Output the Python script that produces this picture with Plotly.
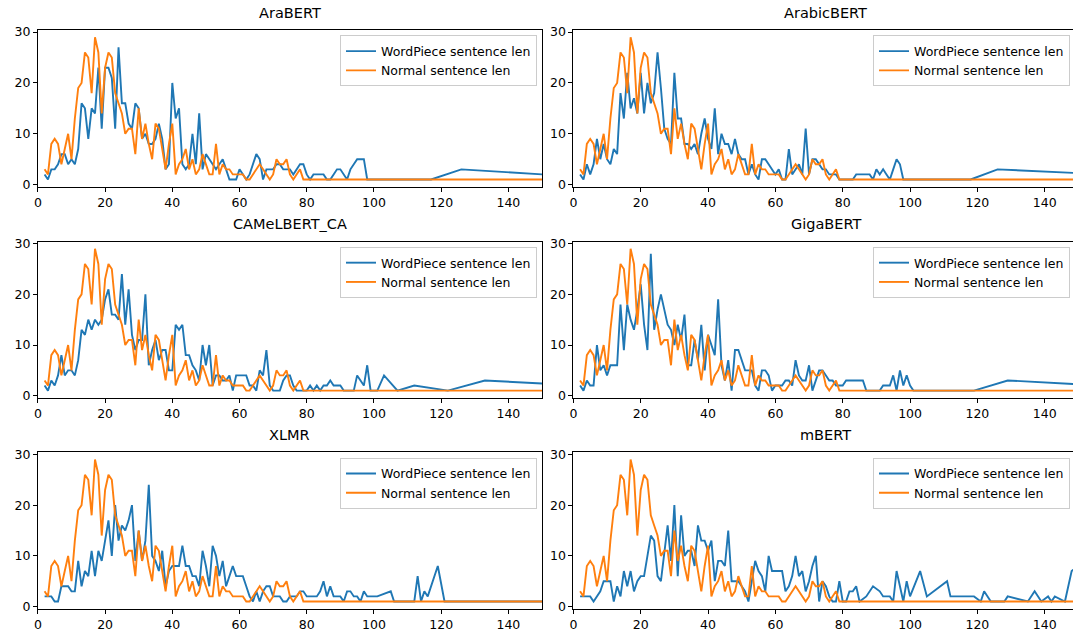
import plotly.graph_objects as go

# Sentence-length distributions: count of sentences per length.
# "Normal" lengths are whitespace-token lengths; the same series is shown in every panel.
normal_head = [3, 2, 8, 9, 8, 4, 7, 10, 5, 13, 19, 20, 26, 25, 18, 29, 26, 14, 23, 26,
               25, 18, 16, 14, 10, 11, 11, 6, 15, 9, 12, 8, 5, 12, 11, 7, 3, 8, 12, 2,
               4, 5, 7, 3, 5, 2, 3, 6, 4, 2, 2, 8, 2, 4, 3, 3, 2, 2, 2, 2,
               1, 1, 2, 3, 4, 3, 2, 1, 2, 5, 4, 4, 5, 2, 1, 2, 3, 1]
normal_tail_x = [85, 95, 110, 130, 160]
normal_tail_y = [1, 1, 1, 1, 1]

# WordPiece lengths per tokenizer (head values start at length 2)
arabert_head = [2, 1, 3, 3, 4, 6, 6, 4, 5, 4, 7, 16, 15, 9, 15, 14, 23, 11, 23, 23,
                21, 11, 27, 16, 16, 12, 11, 16, 15, 9, 10, 8, 8, 9, 12, 9, 3, 4, 20, 13,
                15, 4, 3, 4, 10, 4, 14, 3, 6, 5, 4, 3, 4, 5, 3, 1, 1, 1, 3, 2,
                1, 2, 4, 6, 5, 1, 3, 3, 3, 4, 4, 3, 3, 3, 2, 3, 4, 4, 2, 1,
                2, 2, 2, 2, 1, 1, 2, 3, 3, 2, 1, 3, 4, 5, 5, 5, 1]
arabert_tail_x = [105, 110, 117, 126, 174]
arabert_tail_y = [1, 1, 1, 3, 1]

arabicbert_head = [2, 1, 4, 2, 4, 9, 5, 8, 5, 4, 7, 6, 18, 13, 22, 15, 17, 14, 22, 14,
                   20, 16, 18, 26, 19, 11, 9, 8, 22, 13, 13, 8, 8, 7, 8, 6, 10, 13, 9, 7,
                   15, 6, 10, 8, 8, 6, 9, 6, 5, 5, 2, 4, 2, 1, 5, 5, 4, 3, 2, 3,
                   1, 1, 7, 2, 3, 4, 2, 11, 2, 5, 5, 4, 3, 3, 2, 2, 2, 1, 1, 1,
                   1, 1, 2, 2, 2, 2, 2, 1, 3, 2, 3, 2, 1, 3, 5, 4, 1]
arabicbert_tail_x = [105, 110, 118, 126, 158]
arabicbert_tail_y = [1, 1, 1, 3, 2]

camelbert_head = [2, 1, 3, 2, 4, 8, 4, 5, 5, 4, 7, 13, 12, 15, 13, 15, 14, 15, 19, 21,
                  16, 16, 15, 24, 14, 21, 12, 9, 11, 11, 20, 6, 9, 11, 7, 9, 9, 5, 5, 14,
                  13, 14, 8, 8, 6, 5, 3, 10, 6, 10, 2, 4, 4, 3, 3, 4, 1, 4, 4, 4,
                  4, 2, 2, 1, 5, 4, 9, 2, 1, 1, 1, 3, 4, 4, 2, 1, 1, 1, 1, 2,
                  1, 2, 1, 2, 2, 3, 2, 2, 2, 1, 1, 1, 1, 4, 3, 2, 6, 1]
camelbert_tail_x = [101, 103, 107, 112, 122, 133, 161]
camelbert_tail_y = [1, 4, 1, 2, 1, 3, 2]

gigabert_head = [2, 1, 3, 2, 2, 10, 5, 6, 4, 6, 6, 6, 18, 9, 18, 15, 13, 17, 22, 14,
                 9, 28, 13, 17, 20, 17, 14, 13, 10, 14, 11, 16, 6, 6, 11, 7, 14, 5, 12, 10,
                 8, 19, 6, 3, 7, 1, 9, 9, 7, 5, 5, 5, 2, 1, 5, 5, 4, 1, 2, 2,
                 2, 3, 3, 2, 7, 4, 3, 3, 6, 1, 3, 5, 5, 4, 3, 3, 2, 2, 2, 3,
                 3, 3, 3, 3, 3, 1, 1, 1, 1, 1, 2, 2, 2, 4, 1, 5, 2, 4, 2, 1]
gigabert_tail_x = [110, 119, 129, 157]
gigabert_tail_y = [1, 1, 3, 2]

xlmr_head = [2, 2, 2, 1, 1, 4, 4, 4, 3, 3, 9, 4, 7, 6, 11, 6, 11, 9, 13, 17,
             10, 20, 13, 16, 15, 17, 20, 9, 15, 9, 13, 24, 10, 9, 7, 11, 4, 7, 8, 8,
             8, 12, 8, 8, 6, 6, 4, 11, 8, 4, 12, 10, 6, 9, 4, 6, 8, 6, 6, 6,
             4, 2, 1, 3, 1, 3, 4, 4, 2, 2, 2, 1, 1, 2, 2, 2, 3, 3, 2, 2,
             2, 2, 3, 5, 2, 4, 2, 2, 2, 1, 3, 3, 2, 2, 1, 3, 2, 2, 2, 2]
xlmr_tail_x = [105, 106, 112, 113, 114, 115, 116, 119, 121, 160]
xlmr_tail_y = [3, 1, 1, 6, 1, 3, 2, 8, 1, 1]

mbert_head = [2, 2, 2, 2, 1, 2, 3, 5, 5, 5, 1, 4, 2, 7, 4, 7, 3, 5, 6, 6,
              10, 14, 13, 6, 5, 11, 16, 9, 20, 6, 18, 10, 11, 11, 8, 16, 13, 13, 11, 13,
              5, 9, 9, 8, 15, 5, 5, 5, 4, 3, 1, 5, 9, 7, 6, 3, 10, 7, 7, 7,
              7, 3, 4, 6, 10, 6, 7, 3, 5, 8, 10, 1, 5, 4, 2, 1, 1, 5, 1, 1,
              3, 3, 4, 1]
mbert_tail_x = [87, 89, 91, 92, 94, 95, 96, 98, 99, 100, 103, 105, 107, 111, 112, 119,
                121, 122, 124, 128, 129, 135, 137, 139, 141, 142, 143, 146, 147, 148, 150]
mbert_tail_y = [2, 4, 3, 2, 2, 1, 7, 1, 5, 2, 7, 2, 3, 5, 2, 2,
                1, 3, 1, 1, 2, 1, 3, 1, 2, 1, 2, 1, 4, 7, 8]

panel_titles = ["AraBERT", "ArabicBERT", "CAMeLBERT_CA", "GigaBERT", "XLMR", "mBERT"]
wordpiece = [
    (arabert_head, arabert_tail_x, arabert_tail_y),
    (arabicbert_head, arabicbert_tail_x, arabicbert_tail_y),
    (camelbert_head, camelbert_tail_x, camelbert_tail_y),
    (gigabert_head, gigabert_tail_x, gigabert_tail_y),
    (xlmr_head, xlmr_tail_x, xlmr_tail_y),
    (mbert_head, mbert_tail_x, mbert_tail_y),
]
x_ticks = [0, 20, 40, 60, 80, 100, 120, 140]
y_ticks = [0, 10, 20, 30]

BLUE = "#1f77b4"
ORANGE = "#ff7f0e"
FONT = "DejaVu Sans"
W, H = 1073, 635


def series(head, tail_x, tail_y):
    xs = list(range(2, 2 + len(head))) + list(tail_x)
    ys = list(head) + list(tail_y)
    return xs, ys


normal_x, normal_y = series(normal_head, normal_tail_x, normal_tail_y)

# panel geometry in pixels: (left, right, visible x max) for columns, (top, bottom) for rows
cols = [(34, 540, 150.0), (571.5, 1073, 148.4)]
rows = [(24.5, 183.8), (239.8, 398.6), (454.3, 613.2)]

fig = go.Figure()
layout = dict(
    width=W, height=H,
    margin=dict(l=0, r=0, t=0, b=0),
    paper_bgcolor="white", plot_bgcolor="white",
    font=dict(family=FONT, size=12.5, color="#000000"),
    showlegend=True,
)
annotations = []

for i, (title, (head, tx, ty)) in enumerate(zip(panel_titles, wordpiece)):
    r, c = divmod(i, 2)
    left, right, xmax = cols[c]
    top, bottom = rows[r]
    n = i + 1
    xa = "xaxis" if n == 1 else f"xaxis{n}"
    ya = "yaxis" if n == 1 else f"yaxis{n}"
    xref = "x" if n == 1 else f"x{n}"
    yref = "y" if n == 1 else f"y{n}"
    leg = "legend" if n == 1 else f"legend{n}"

    wx, wy = series(head, tx, ty)
    fig.add_trace(go.Scatter(x=wx, y=wy, mode="lines", name="WordPiece sentence len",
                             line=dict(color=BLUE, width=1.9), xaxis=xref, yaxis=yref,
                             legend=leg))
    fig.add_trace(go.Scatter(x=normal_x, y=normal_y, mode="lines", name="Normal sentence len",
                             line=dict(color=ORANGE, width=1.9), xaxis=xref, yaxis=yref,
                             legend=leg))

    layout[xa] = dict(
        domain=[left / W, right / W], anchor=yref, range=[0, xmax],
        tickmode="array", tickvals=x_ticks, ticks="outside", ticklen=4, tickwidth=1,
        tickcolor="#000000", showline=True, linecolor="#000000", linewidth=1,
        mirror=True, showgrid=False, zeroline=False, tickfont=dict(size=12.5),
    )
    layout[ya] = dict(
        domain=[1 - bottom / H, 1 - top / H], anchor=xref, range=[-0.4, 30.4],
        tickmode="array", tickvals=y_ticks, ticks="outside", ticklen=4, tickwidth=1,
        tickcolor="#000000", showline=True, linecolor="#000000", linewidth=1,
        mirror=(c == 0), showgrid=False, zeroline=False, tickfont=dict(size=12.5),
    )
    legend_right = (535 if c == 0 else 1070) / W
    layout[leg] = dict(
        x=legend_right, xanchor="right", y=1 - (top + 5.5) / H, yanchor="top",
        bgcolor="rgba(255,255,255,0.8)", bordercolor="#cccccc", borderwidth=1,
        font=dict(family=FONT, size=12.5, color="#000000"),
        itemwidth=30, tracegroupgap=0,
    )
    full_right = left + (right - left) * 150.0 / xmax
    annotations.append(dict(
        text=title, x=(left + full_right) / 2 / W, y=1 - (top - 7.5) / H,
        xref="paper", yref="paper", xanchor="center", yanchor="bottom",
        showarrow=False, font=dict(family=FONT, size=14.5, color="#000000"),
    ))

layout["annotations"] = annotations
fig.update_layout(**layout)
fig.write_html("out.html")
